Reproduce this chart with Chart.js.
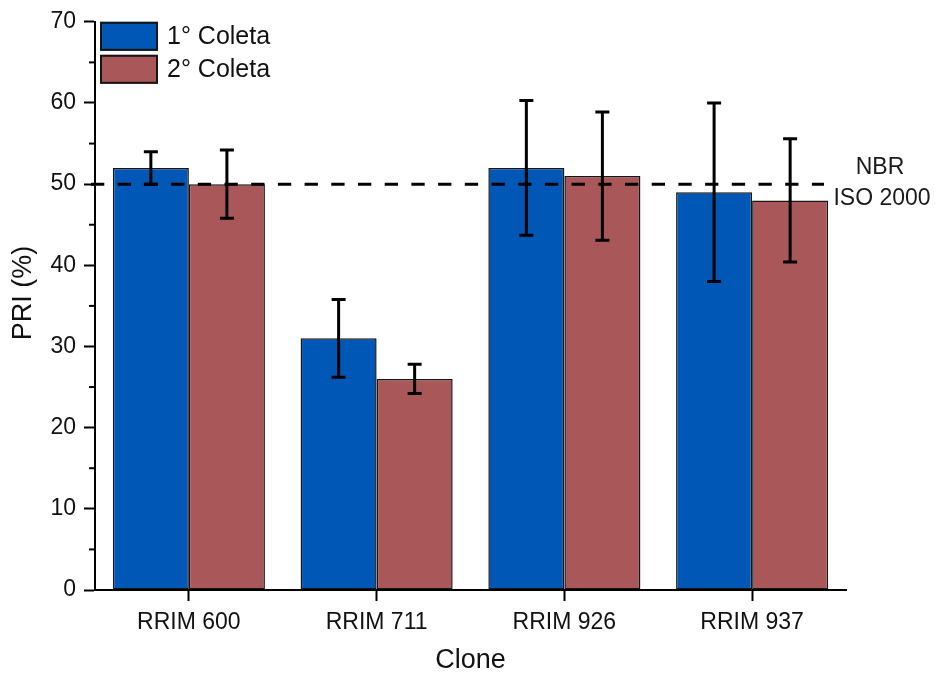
<!DOCTYPE html>
<html>
<head>
<meta charset="utf-8">
<script src="https://cdn.jsdelivr.net/npm/chart.js@4.4.1/dist/chart.umd.min.js"></script>
<style>
  html, body { margin: 0; padding: 0; background: #ffffff; }
  #wrap { width: 935px; height: 677px; }
</style>
</head>
<body>
<div id="wrap"><canvas id="c" width="935" height="677"></canvas></div>
<script>
// PRI (%) per clone, two sampling rounds, with standard deviations
const clones = ['RRIM 600', 'RRIM 711', 'RRIM 926', 'RRIM 937'];
const coleta1 = [52, 31, 52, 49];
const coleta2 = [50, 26, 51, 48];
const erro1 = [2.0, 4.8, 8.3, 11.0];
const erro2 = [4.2, 1.8, 7.9, 7.6];
const seriesNames = ['1° Coleta', '2° Coleta'];
const nbrLimit = 50;
const nbrLabel = ['NBR', 'ISO 2000'];

const FONT = '"Liberation Sans", Arial, Helvetica, sans-serif';
const BLUE = '#0057b5';
const RED = '#aa5759';
const EDGE = '#151515';

// Dashed reference line, error bars, minor ticks, legend and y title
const extras = {
  id: 'extras',
  afterDatasetsDraw(chart) {
    const ctx = chart.ctx;
    const ya = chart.scales.y;
    const area = chart.chartArea;

    // NBR ISO 2000 reference line
    const yl = ya.getPixelForValue(nbrLimit);
    ctx.save();
    ctx.strokeStyle = '#000';
    ctx.lineWidth = 3;
    ctx.setLineDash([13.3, 13.4]);
    ctx.beginPath();
    ctx.moveTo(area.left - 4, yl);
    ctx.lineTo(area.right - 22, yl);
    ctx.stroke();
    ctx.restore();

    // Error bars
    const errs = [erro1, erro2];
    chart.data.datasets.forEach((ds, di) => {
      const meta = chart.getDatasetMeta(di);
      meta.data.forEach((bar, i) => {
        const v = ds.data[i];
        const e = errs[di][i];
        const yt = ya.getPixelForValue(v + e);
        const yb = ya.getPixelForValue(v - e);
        const x = bar.x;
        ctx.save();
        ctx.strokeStyle = '#000';
        ctx.lineWidth = 3;
        ctx.beginPath();
        ctx.moveTo(x, yt); ctx.lineTo(x, yb);
        ctx.moveTo(x - 7, yt); ctx.lineTo(x + 7, yt);
        ctx.moveTo(x - 7, yb); ctx.lineTo(x + 7, yb);
        ctx.stroke();
        ctx.restore();
      });
    });

    // Reference line label
    ctx.save();
    ctx.fillStyle = '#1a1a1a';
    ctx.font = '23px ' + FONT;
    ctx.textAlign = 'center';
    ctx.textBaseline = 'middle';
    ctx.fillText(nbrLabel[0], 880, yl - 16);
    ctx.fillText(nbrLabel[1], 882, yl + 15);
    ctx.restore();
  },
  afterDraw(chart) {
    const ctx = chart.ctx;
    const ya = chart.scales.y;
    const area = chart.chartArea;

    // Minor ticks on the y axis
    ctx.save();
    ctx.strokeStyle = '#000';
    ctx.lineWidth = 2;
    for (let v = 5; v < ya.max; v += 10) {
      const y = ya.getPixelForValue(v);
      ctx.beginPath();
      ctx.moveTo(area.left - 6, y);
      ctx.lineTo(area.left, y);
      ctx.stroke();
    }
    ctx.restore();

    // Legend
    const colors = [BLUE, RED];
    ctx.save();
    seriesNames.forEach((name, i) => {
      const bx = area.left + 5;
      const by = area.top + i * 33;
      ctx.fillStyle = colors[i];
      ctx.fillRect(bx, by, 58, 29);
      ctx.strokeStyle = EDGE;
      ctx.lineWidth = 2;
      ctx.strokeRect(bx + 1, by + 1, 56, 27);
      ctx.fillStyle = '#111';
      ctx.font = '25px ' + FONT;
      ctx.textAlign = 'left';
      ctx.textBaseline = 'middle';
      ctx.fillText(name, bx + 67, by + 15);
    });
    ctx.restore();

    // Y axis title
    ctx.save();
    ctx.fillStyle = '#111';
    ctx.font = '27px ' + FONT;
    ctx.textAlign = 'center';
    ctx.textBaseline = 'middle';
    ctx.translate(24, 293);
    ctx.rotate(-Math.PI / 2);
    ctx.fillText('PRI (%)', 0, 0);
    ctx.restore();
  }
};

new Chart(document.getElementById('c'), {
  type: 'bar',
  data: {
    labels: clones,
    datasets: [
      { label: seriesNames[0], data: coleta1, backgroundColor: BLUE, borderColor: EDGE, borderWidth: 1.5, borderSkipped: false },
      { label: seriesNames[1], data: coleta2, backgroundColor: RED, borderColor: EDGE, borderWidth: 1.5, borderSkipped: false }
    ]
  },
  options: {
    responsive: false,
    animation: false,
    devicePixelRatio: 1,
    categoryPercentage: 0.81,
    barPercentage: 1.0,
    layout: { padding: { left: 0, top: 20, right: 89, bottom: 0 } },
    plugins: { legend: { display: false }, tooltip: { enabled: false } },
    scales: {
      x: {
        type: 'category',
        offset: true,
        grid: { display: true, drawOnChartArea: false, offset: false, tickLength: 11, tickColor: '#000', tickWidth: 2 },
        border: { display: true, color: '#000', width: 2 },
        ticks: { font: { family: FONT, size: 23 }, color: '#111', padding: 8, maxRotation: 0 },
        title: { display: true, text: 'Clone', font: { family: FONT, size: 27 }, color: '#111', padding: { top: 0, bottom: 0 } },
        afterFit(scale) { scale.height = 87; }
      },
      y: {
        min: 0,
        max: 70,
        grid: { display: true, drawOnChartArea: false, tickLength: 11, tickColor: '#000', tickWidth: 2 },
        border: { display: true, color: '#000', width: 2 },
        ticks: { stepSize: 10, font: { family: FONT, size: 23 }, color: '#111', padding: 8 },
        afterFit(scale) { scale.width = 95; }
      }
    }
  },
  plugins: [extras]
});
</script>
</body>
</html>
